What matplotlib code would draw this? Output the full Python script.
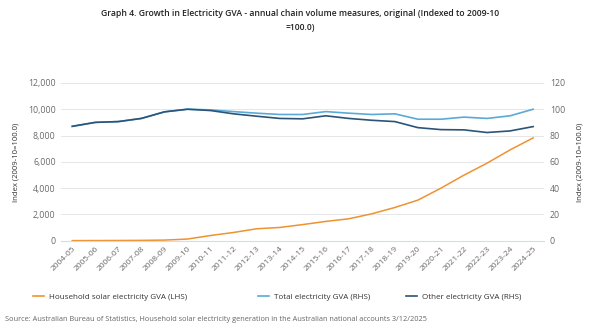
import matplotlib
matplotlib.use("Agg")
import matplotlib.pyplot as plt
from matplotlib.lines import Line2D

plt.rcParams['font.family'] = ['Open Sans', 'DejaVu Sans']

years = ["2004-05", "2005-06", "2006-07", "2007-08", "2008-09", "2009-10",
         "2010-11", "2011-12", "2012-13", "2013-14", "2014-15", "2015-16",
         "2016-17", "2017-18", "2018-19", "2019-20", "2020-21", "2021-22",
         "2022-23", "2023-24", "2024-25"]

# household solar, left axis
solar = [10, 15, 20, 30, 50, 130, 400, 630, 910, 1010, 1230, 1470,
         1670, 2050, 2530, 3090, 4000, 4990, 5900, 6910, 7820]
# total and other electricity, right axis
total = [87, 90, 90.6, 93, 98, 100, 99.5, 98.2, 97, 96, 96, 98.2,
         97, 96, 96.5, 92.4, 92.4, 94, 93, 95, 100]
other = [87, 90, 90.6, 93, 98, 100, 99, 96.5, 94.7, 93, 92.7, 95,
         93, 91.6, 90.6, 86, 84.5, 84.3, 82.3, 83.5, 86.8]

names = ["Household solar electricity GVA (LHS)",
         "Total electricity GVA (RHS)",
         "Other electricity GVA (RHS)"]

c_solar = "#F0922F"
c_total = "#5AAAD9"
c_other = "#2B5478"
grey = "#6A6A6A"

fig = plt.figure(figsize=(6, 3.33), dpi=100)
ax = fig.add_axes([0.102, 0.277, 0.805, 0.474])
ax2 = ax.twinx()

x = range(len(years))
ax.plot(x, solar, color=c_solar, lw=1.1)
ax2.plot(x, total, color=c_total, lw=1.2)
ax2.plot(x, other, color=c_other, lw=1.2)

ax.set_ylim(0, 12000)
ax2.set_ylim(0, 120)
ax.set_yticks(range(0, 12001, 2000))
ax.set_yticklabels([f"{v:,}" for v in range(0, 12001, 2000)])
ax2.set_yticks(range(0, 121, 20))
ax.set_xlim(-0.48, len(years) - 0.52)
ax.set_xticks(list(x))
ax.set_xticklabels(years, rotation=45, ha="right", rotation_mode="anchor")

ax.grid(axis="y", color="#E6E6E6", lw=0.7)
ax.set_axisbelow(True)
for a in (ax, ax2):
    for s in a.spines.values():
        s.set_visible(False)
    a.tick_params(length=0, labelsize=6.3, colors=grey, pad=4)
ax.spines["bottom"].set_visible(True)
ax.spines["bottom"].set_color("#D5DCE8")
ax.spines["bottom"].set_linewidth(0.8)
ax.tick_params(axis="x", pad=3, labelsize=6.1)

ax.set_ylabel("Index (2009-10=100.0)", fontsize=5.6, color="#333333", labelpad=6)
ax2.set_ylabel("Index (2009-10=100.0)", fontsize=5.6, color="#333333",
               rotation=90, labelpad=8)

fig.text(0.5, 0.958, "Graph 4. Growth in Electricity GVA - annual chain volume measures, original (Indexed to 2009-10",
         ha="center", va="center", fontsize=6.2, color="#222222", fontweight="semibold")
fig.text(0.5, 0.918, "=100.0)", ha="center", va="center", fontsize=6.2,
         color="#222222", fontweight="semibold")

# legend entries sit in fixed slots along the bottom
for name, col, xpos in zip(names, [c_solar, c_total, c_other], [0.055, 0.430, 0.676]):
    h = Line2D([], [], color=col, lw=1.2)
    leg = fig.legend([h], [name], loc="center left", bbox_to_anchor=(xpos, 0.108),
                     frameon=False, fontsize=5.8, handlelength=1.4,
                     handletextpad=0.6, borderaxespad=0, borderpad=0,
                     labelcolor="#333333")

fig.text(0.008, 0.042, "Source: Australian Bureau of Statistics, Household solar electricity generation in the Australian national accounts 3/12/2025",
         ha="left", va="center", fontsize=5.3, color="#666666")

fig.savefig("out.png", dpi=100, facecolor="white")
